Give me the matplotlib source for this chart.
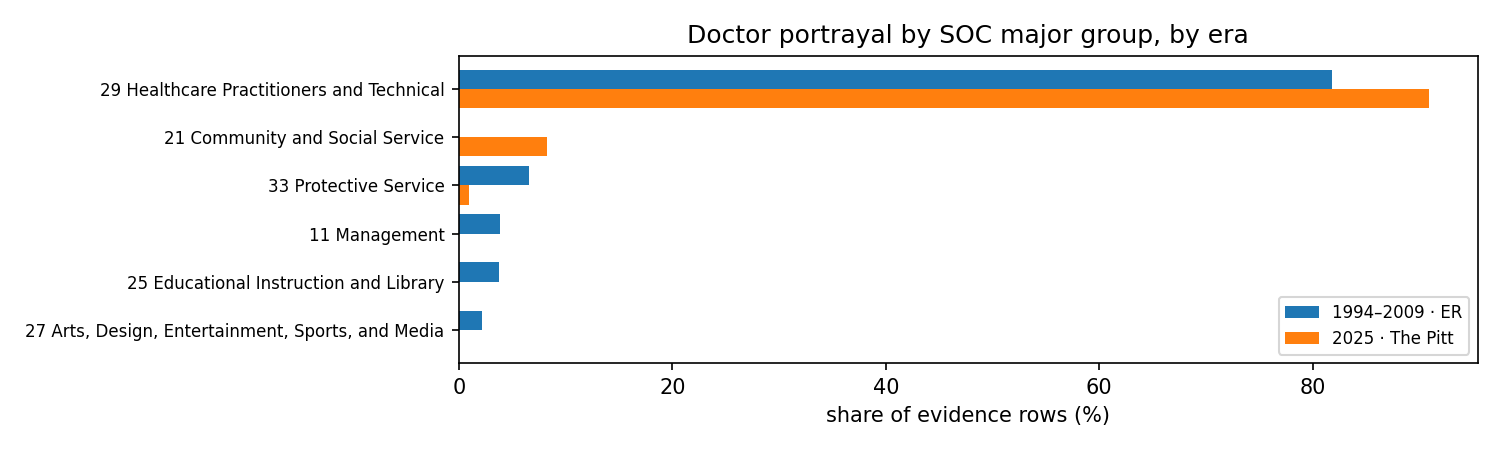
import matplotlib
matplotlib.use("Agg")
import matplotlib.pyplot as plt
import numpy as np

categories = [
    "29 Healthcare Practitioners and Technical",
    "21 Community and Social Service",
    "33 Protective Service",
    "11 Management",
    "25 Educational Instruction and Library",
    "27 Arts, Design, Entertainment, Sports, and Media",
]
er_values = [81.8, 0.0, 6.54, 3.81, 3.72, 2.15]
pitt_values = [90.9, 8.24, 0.91, 0.0, 0.0, 0.0]
series_labels = ["1994\u20132009 \u00b7 ER", "2025 \u00b7 The Pitt"]

fig, ax = plt.subplots(figsize=(10, 3), dpi=150)
y = np.arange(len(categories))
h = 0.4
ax.barh(y - h / 2, er_values, height=h, color="#1f77b4", label=series_labels[0])
ax.barh(y + h / 2, pitt_values, height=h, color="#ff7f0e", label=series_labels[1])
ax.set_yticks(y)
ax.set_yticklabels(categories, fontsize=8)
ax.invert_yaxis()
ax.set_xlabel("share of evidence rows (%)")
ax.set_title("Doctor portrayal by SOC major group, by era")
ax.legend(loc="lower right", fontsize=8)
fig.subplots_adjust(left=0.306, right=0.985, top=0.876, bottom=0.193)
fig.savefig("out.png", dpi=150)
